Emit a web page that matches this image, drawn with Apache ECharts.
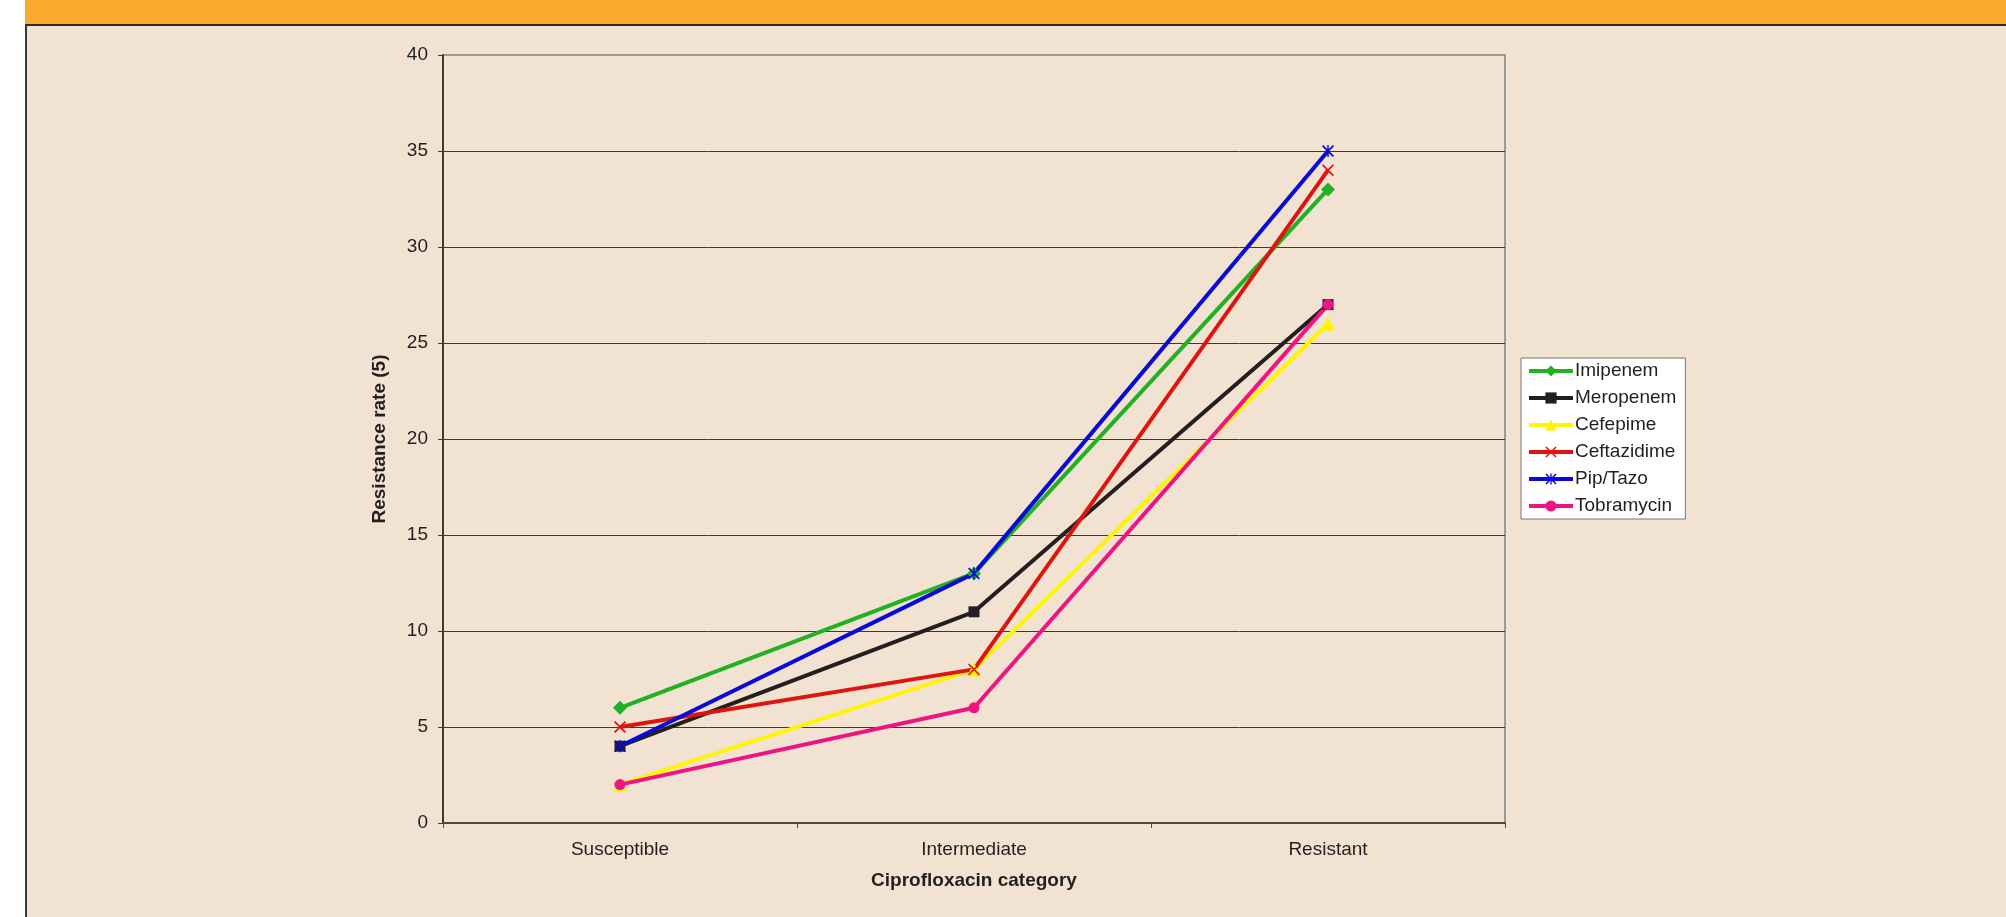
<!DOCTYPE html>
<html>
<head>
<meta charset="utf-8">
<script src="https://cdn.jsdelivr.net/npm/echarts@6/dist/echarts.min.js"></script>
<style>
html,body{margin:0;padding:0;background:#F1E2D1;}
#c{width:2006px;height:917px;}
</style>
</head>
<body>
<div id="c"></div>
<script>
const categories = ['Susceptible', 'Intermediate', 'Resistant'];
const imipenem    = [6, 13, 33];
const meropenem   = [4, 11, 27];
const cefepime    = [2, 8, 26];
const ceftazidime = [5, 8, 34];
const pipTazo     = [4, 13, 35];
const tobramycin  = [2, 6, 27];
const seriesNames = ['Imipenem', 'Meropenem', 'Cefepime', 'Ceftazidime', 'Pip/Tazo', 'Tobramycin'];
const yTicks = [0, 5, 10, 15, 20, 25, 30, 35, 40];

const xPath = 'path://M0,1L1,0L5,4L9,0L10,1L6,5L10,9L9,10L5,6L1,10L0,9L4,5Z';
const starPath = 'path://M0,1L1,0L5,4L9,0L10,1L6,5L10,9L9,10L5,6L1,10L0,9L4,5ZM4.4,0L5.6,0L5.6,10L4.4,10Z';

const styles = [
  {color: '#22B024', symbol: 'diamond', size: 14},
  {color: '#231F20', symbol: 'rect', size: 11},
  {color: '#FFF500', symbol: 'triangle', size: 14},
  {color: '#E0140F', symbol: xPath, size: 12},
  {color: '#0A0AD8', symbol: starPath, size: 12},
  {color: '#EE1583', symbol: 'circle', size: 11}
];
const values = [imipenem, meropenem, cefepime, ceftazidime, pipTazo, tobramycin];

const chart = echarts.init(document.getElementById('c'));
const font = 'Liberation Sans, Arial, sans-serif';

chart.setOption({
  backgroundColor: '#F1E2D1',
  animation: false,
  textStyle: {fontFamily: font},
  graphic: [
    {type: 'rect', shape: {x: 0, y: 0, width: 25, height: 917}, style: {fill: '#FFFFFF'}},
    {type: 'rect', shape: {x: 25, y: 0, width: 1981, height: 24}, style: {fill: '#FBA92E'}},
    {type: 'rect', shape: {x: 25, y: 24, width: 1981, height: 2}, style: {fill: '#2E2A25'}},
    {type: 'rect', shape: {x: 25, y: 24, width: 2, height: 893}, style: {fill: '#3A3632'}}
  ],
  grid: {left: 443, right: 501, top: 55, bottom: 94, show: true, borderColor: '#9A9A9A', borderWidth: 2, backgroundColor: 'transparent'},
  legend: {
    orient: 'vertical',
    left: 1521, top: 358,
    width: 166,
    backgroundColor: '#FFFFFF',
    borderColor: '#777777', borderWidth: 1,
    padding: [3, 9, 3, 6],
    itemWidth: 44, itemHeight: 14, itemGap: 7,
    lineStyle: {width: 4},
    textStyle: {fontSize: 19, color: '#231F20', fontFamily: font, lineHeight: 20, padding: [0, 0, 0, -3]},
    data: seriesNames
  },
  xAxis: {
    type: 'category',
    data: categories,
    boundaryGap: true,
    axisLine: {lineStyle: {color: '#4A4A4A', width: 2}},
    axisTick: {show: true, alignWithLabel: false, length: 5, inside: false, lineStyle: {color: '#4A4A4A', width: 1}},
    axisLabel: {fontSize: 19, color: '#231F20', margin: 17, fontFamily: font},
    name: 'Ciprofloxacin category',
    nameLocation: 'middle',
    nameGap: 48,
    nameTextStyle: {fontSize: 19, fontWeight: 'bold', color: '#231F20', fontFamily: font}
  },
  yAxis: {
    type: 'value',
    min: 0, max: 40, interval: 5,
    axisLine: {show: true, lineStyle: {color: '#3A3A3A', width: 2}},
    axisTick: {show: true, length: 5, lineStyle: {color: '#3A3A3A', width: 1}},
    axisLabel: {fontSize: 19, color: '#231F20', margin: 15, fontFamily: font,
      formatter: v => yTicks.includes(v) ? String(v) : ''},
    splitLine: {show: true, lineStyle: {color: ['#3A3A3A','#3A3A3A','#3A3A3A','#3A3A3A','#3A3A3A','#3A3A3A','#3A3A3A','#3A3A3A','#9A9A9A'], width: 1}},
    name: 'Resistance rate (5)',
    nameLocation: 'middle',
    nameGap: 54,
    nameRotate: 90,
    nameTextStyle: {fontSize: 19, fontWeight: 'bold', color: '#231F20', fontFamily: font}
  },
  series: seriesNames.map((n, i) => ({
    name: n,
    type: 'line',
    data: values[i],
    symbol: styles[i].symbol,
    symbolSize: styles[i].size,
    showAllSymbol: true,
    lineStyle: {color: styles[i].color, width: 4},
    itemStyle: {color: styles[i].color, borderColor: styles[i].color, borderWidth: 0},
    emphasis: {disabled: true}
  }))
});
</script>
</body>
</html>
